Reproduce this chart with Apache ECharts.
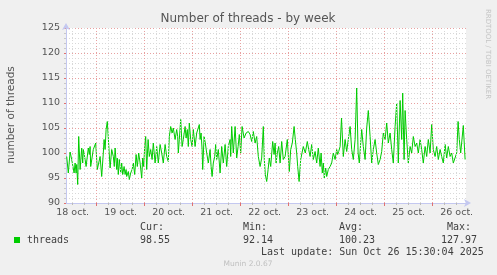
<!DOCTYPE html>
<html><head><meta charset="utf-8">
<script src="https://cdn.jsdelivr.net/npm/echarts@6/dist/echarts.min.js"></script>
<style>html,body{margin:0;padding:0;background:#f0f0f0}#c{width:497px;height:275px}</style>
</head><body><div id="c"></div>
<script>
// hours since 18 oct 00:00
const hours = [9.0,9.8,10.7,11.5,12.3,12.7,13.2,13.7,14.0,14.5,15.0,15.7,16.5,17.0,17.3,18.2,18.7,19.8,20.3,20.7,21.0,22.3,23.5,24.3,25.2,25.7,26.5,27.3,27.7,28.2,28.7,29.3,29.8,30.7,31.5,32.3,32.8,33.2,34.0,34.3,34.8,35.3,36.0,36.5,37.0,37.7,38.2,38.7,39.0,39.8,40.3,41.0,41.7,42.3,43.0,43.7,44.3,45.0,45.7,46.5,47.0,47.5,48.0,48.5,49.0,49.7,50.3,51.0,51.7,52.3,53.2,54.0,54.8,55.7,56.5,57.3,58.2,59.0,59.8,60.3,61.0,61.7,62.3,63.2,64.0,64.5,64.8,65.3,66.0,66.7,67.3,68.2,68.7,69.3,69.8,70.3,71.0,71.7,72.3,73.2,74.0,75.3,75.7,76.2,76.7,77.0,77.7,78.3,79.0,79.8,80.7,81.2,81.7,82.3,83.0,83.5,84.0,84.8,85.7,86.5,87.3,88.2,89.0,89.8,90.7,91.0,91.5,92.3,93.2,94.0,94.7,95.3,96.0,96.7,97.7,98.7,99.8,100.7,101.5,102.3,103.2,104.0,104.8,105.7,106.5,107.3,107.8,108.3,109.0,109.7,110.3,111.0,112.0,112.7,113.2,113.7,114.3,115.0,115.7,116.5,117.3,118.2,119.3,120.3,121.0,121.8,122.7,123.3,124.0,124.5,125.2,126.0,127.3,128.3,129.3,130.0,130.7,131.5,132.3,133.2,134.0,134.8,135.7,136.2,136.8,137.3,137.8,138.5,139.0,139.8,140.7,141.5,142.3,143.2,144.0,144.5,145.0,145.7,146.4,147.3,148.2,149.0,149.8,150.7,151.5,152.3,153.2,154.0,154.7,155.3,156.0,156.5,157.3,158.2,159.0,159.8,160.7,161.5,162.3,163.2,164.0,164.8,165.7,166.5,167.3,168.2,169.0,169.8,170.7,171.5,172.3,173.2,174.0,174.8,175.7,176.5,177.0,177.7,178.2,179.0,179.8,180.7,181.5,182.3,183.2,184.0,184.8,185.7,186.5,187.3,188.2,189.0,189.8,190.7,191.5,192.3,193.2,194.0,194.8,195.7,196.5,197.3,198.2,199.0,199.8,200.7,201.5,202.3,203.2,204.0,204.7,205.3,206.0,206.7,207.3,208.2];
const threads = [99.3,96,100.2,98.7,98.3,96,98,96,97.7,93.7,103.3,96.7,101,98,100.7,98.7,97.3,101,99.7,101.3,97.3,100.7,102,96.7,96.3,99.3,95.3,100,102.7,100.7,104.7,106.3,103,97,100.7,99.3,97.3,101,96.7,99,95.7,98.7,96,98,95.7,97.3,95.7,96.7,95.3,96.3,94.7,96,96.7,98,95.7,99.7,97.3,100,98,95,99,97.3,101.3,103.3,96.7,102.7,99.3,100.7,98.7,102,98,101.3,98,101.7,100,98,101.7,99.3,98.3,103.3,105.3,104,105,102.7,104.7,103.3,100,102.7,106.7,101.3,102.7,105.3,103,104.7,101.3,106,102.7,101.3,104.7,101.3,104,105.7,102.7,104,100.7,96.7,103.3,102,100,98,100.7,97.3,95.3,98,99.3,101.7,98.7,100.7,96,101.3,98,101.7,97.3,101.3,102.7,99.3,105.3,100,105.3,99,101.3,103.7,100,105.3,103,104,104.3,103.7,102.3,104.3,102,103.3,99.3,97.3,99,105.3,98.7,95.7,94.3,96.7,99,97.3,102.3,99.7,102,98,100,101.3,98,102.3,98.7,99.3,102.7,96.3,100.7,102,105.3,102.7,100,97.3,94.3,98.7,101.3,100,102.3,100.7,99.3,101.7,98.7,100.3,98,101,97.3,100,96,98,95,97,95.3,96.7,97.3,98,100,98.7,100.7,99.7,100.3,101.3,107,99.3,102.7,100.3,102.7,105.3,100.7,98.7,102.7,113,100,98,102,104.7,101.3,98.7,105,108.5,103.3,98,100.7,102.7,100,97.7,98.7,100.3,104,102.7,106,102,104,100.7,98,105.3,110,98,110.5,102.7,112,98.7,108.5,102.7,98,101.3,100,103.3,101.3,102,100,102.7,100.7,98,101.3,99.3,102.7,100,105.7,100.7,99.3,101.3,98.7,100.7,99.3,98,101.7,99,101.3,99.3,100,98,97.7,100,106.3,102.7,100,100,105.5,98.7];
const dayLabels = ['18 oct.','19 oct.','20 oct.','21 oct.','22 oct.','23 oct.','24 oct.','25 oct.','26 oct.'];
const yTicks = [90,95,100,105,110,115,120,125];
const statNames = ['Cur:','Min:','Avg:','Max:'];
const statValues = ['98.55','92.14','100.23','127.97'];
const seriesName = 'threads';
const lastUpdate = 'Last update: Sun Oct 26 15:30:04 2025';

const xMin = 8.65, xMax = 208.65;
const noon = dayLabels.map((d,i)=>12+24*i);
const midnights = [], sixes = [];
for (let h = 6; h < xMax; h += 6) { if (h > xMin) { (h % 24 === 0 ? midnights : sixes).push(h); } }
const allSix = midnights.concat(sixes).sort((a,b)=>a-b);

const chart = echarts.init(document.getElementById('c'), null, {renderer:'canvas'});
const mono = 'DejaVu Sans Mono';
const legendColor = '#404040';
const graphics = [
  {type:'text', x:248, y:19, style:{text:'Number of threads - by week', font:'12px "DejaVu Sans"', fill:'#555', align:'center', verticalAlign:'middle'}},
  {type:'text', x:11, y:115, rotation:Math.PI/2, style:{text:'number of threads', font:'10.5px "DejaVu Sans"', fill:'#555', align:'center', verticalAlign:'middle'}},
  {type:'text', x:488, y:54, rotation:-Math.PI/2, style:{text:'RRDTOOL / TOBI OETIKER', font:'7px "DejaVu Sans"', fill:'#c4c4c4', align:'center', verticalAlign:'middle'}},
  {type:'rect', shape:{x:14, y:237, width:6, height:6}, style:{fill:'#00cc00'}},
  {type:'text', x:27, y:240, style:{text:seriesName, font:'10px "'+mono+'"', fill:legendColor, verticalAlign:'middle'}},
  {type:'text', x:261, y:252, style:{text:lastUpdate, font:'10px "'+mono+'"', fill:legendColor, verticalAlign:'middle'}},
  {type:'text', x:248, y:264, style:{text:'Munin 2.0.67', font:'7.5px "DejaVu Sans"', fill:'#c0c0c0', align:'center', verticalAlign:'middle'}}
];
const nameX = [140, 243, 339, 447];
const valX = [140, 243, 339, 441];
statNames.forEach((n,i)=>{
  graphics.push({type:'text', x:nameX[i], y:227, style:{text:n, font:'10px "'+mono+'"', fill:legendColor, verticalAlign:'middle'}});
  graphics.push({type:'text', x:valX[i], y:240, style:{text:statValues[i], font:'10px "'+mono+'"', fill:legendColor, verticalAlign:'middle'}});
});

const redGrid = '#e8a0a0', greyGrid = '#d8d8d8', axisBlue = '#c4c8f0';
chart.setOption({
  backgroundColor:'#f0f0f0',
  animation:false,
  grid:{left:66, right:31, top:28, bottom:72, show:true, backgroundColor:'#ffffff', borderWidth:0},
  xAxis:[{
    type:'value', min:xMin, max:xMax,
    axisLine:{show:true, lineStyle:{color:axisBlue, width:1}, symbol:['none','arrow'], symbolSize:[6,7], symbolOffset:[0,5]},
    axisTick:{show:true, customValues:midnights, length:3, inside:false, lineStyle:{color:'#e07070'}},
    axisLabel:{customValues:noon, formatter:(v)=>dayLabels[Math.round((v-12)/24)], color:'#555', fontFamily:'DejaVu Sans', fontSize:9.5, margin:5},
    splitLine:{show:false}
  },{
    type:'value', min:xMin, max:xMax, position:'bottom',
    axisLine:{show:false},
    axisTick:{show:true, customValues:sixes, length:2, lineStyle:{color:'#bbb'}},
    axisLabel:{show:false}, splitLine:{show:false}
  }],
  yAxis:{
    type:'value', min:90, max:125, interval:5,
    axisLine:{show:true, lineStyle:{color:axisBlue, width:1}, symbol:['none','arrow'], symbolSize:[6,7], symbolOffset:[0,5]},
    axisTick:{show:true, length:2, lineStyle:{color:'#e07070'}},
    minorTick:{show:true, splitNumber:5, length:2, lineStyle:{color:'#c8c8c8'}},
    axisLabel:{color:'#555', fontFamily:'DejaVu Sans', fontSize:9.5, margin:6},
    splitLine:{show:true, lineStyle:{color:redGrid, type:[1,2], width:1}},
    minorSplitLine:{show:true, lineStyle:{color:greyGrid, type:[1,2], width:1}}
  },
  graphic:graphics,
  series:[{
    type:'line', data:[], silent:true, z:1,
    markLine:{silent:true, symbol:['none','none'], label:{show:false}, animation:false,
      data: sixes.map(h=>({xAxis:h, lineStyle:{color:greyGrid, type:[1,2], width:1}}))
        .concat(midnights.map(h=>({xAxis:h, lineStyle:{color:redGrid, type:[1,2], width:1}})))}
  },{
    name:seriesName, type:'line', z:3,
    data: hours.map((h,i)=>[h, threads[i]]),
    showSymbol:false, symbol:'none',
    lineStyle:{color:'#00cc00', width:1},
    itemStyle:{color:'#00cc00'}
  }]
});
</script></body></html>
